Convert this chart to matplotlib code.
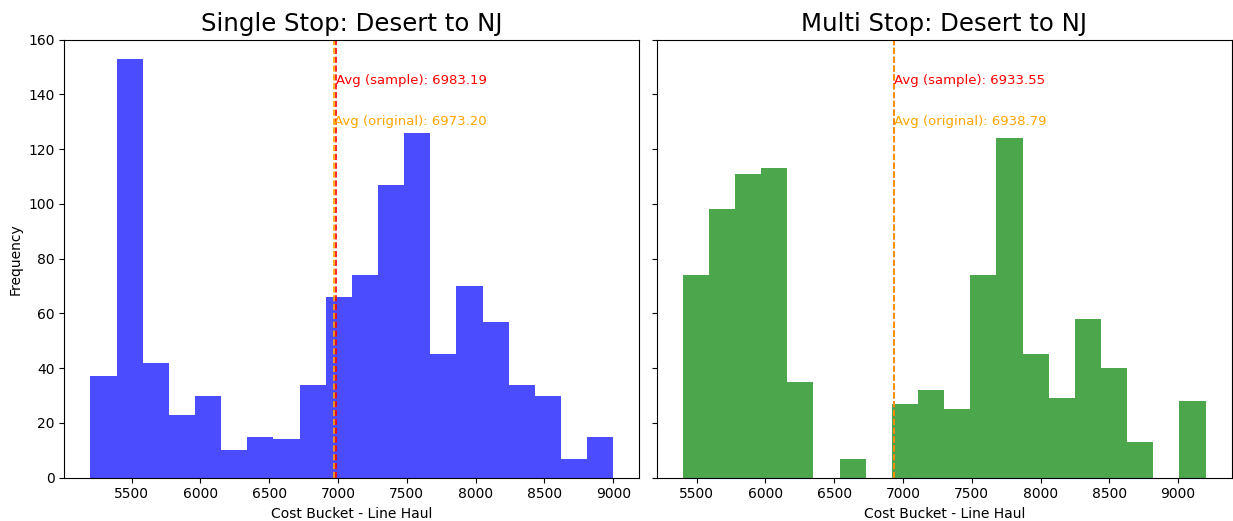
import numpy as np
import matplotlib.pyplot as plt

# bin ranges and counts (20 bins each)
single_range = (5200, 9000)
single_counts = [37, 153, 42, 23, 30, 10, 15, 14, 34, 66,
                 74, 107, 126, 45, 70, 57, 34, 30, 7, 15]
single_avg_sample = 6983.19
single_avg_original = 6973.20

multi_range = (5400, 9200)
multi_counts = [74, 98, 111, 113, 35, 0, 7, 0, 27, 32,
                25, 74, 124, 45, 29, 58, 40, 13, 0, 28]
multi_avg_sample = 6933.55
multi_avg_original = 6938.79

titles = ['Single Stop: Desert to NJ', 'Multi Stop: Desert to NJ']
colors = ['blue', 'green']


def draw(ax, rng, counts, avg_s, avg_o, title, color):
    edges = np.linspace(rng[0], rng[1], len(counts) + 1)
    ax.hist(edges[:-1], bins=edges, weights=counts, color=color, alpha=0.7)
    ax.axvline(avg_s, color='red', linestyle='--', linewidth=1.2)
    ax.axvline(avg_o, color='orange', linestyle='--', linewidth=1.2)
    ax.text(avg_s, 145, f'Avg (sample): {avg_s:.2f}', color='red',
            fontsize=9.5, va='center', ha='left')
    ax.text(avg_o, 130, f'Avg (original): {avg_o:.2f}', color='orange',
            fontsize=9.5, va='center', ha='left')
    ax.set_title(title, fontsize=17.6)
    ax.set_xlabel('Cost Bucket - Line Haul', fontsize=10)
    ax.set_xticks([5500, 6000, 6500, 7000, 7500, 8000, 8500, 9000])


fig, axes = plt.subplots(1, 2, figsize=(12.33, 5.21), dpi=100, sharey=True)
fig.subplots_adjust(left=0.0521, right=0.999, top=0.924, bottom=0.0831, wspace=0.030)

draw(axes[0], single_range, single_counts, single_avg_sample,
     single_avg_original, titles[0], colors[0])
draw(axes[1], multi_range, multi_counts, multi_avg_sample,
     multi_avg_original, titles[1], colors[1])

axes[0].set_ylabel('Frequency', fontsize=10)
axes[0].set_ylim(0, 160)
axes[0].set_xlim(5010, 9190)
axes[1].set_xlim(5210, 9390)

plt.savefig('out.png')
